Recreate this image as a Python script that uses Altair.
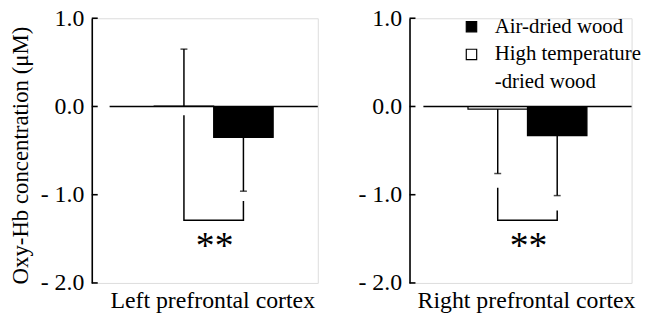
import altair as alt
import numpy as np
import pandas as pd

regions = ["Left prefrontal cortex", "Right prefrontal cortex"]
series = ["Air-dried wood", "High temperature-dried wood"]
x_order = ["High temperature-dried wood", "Air-dried wood"]
# legend rows (the long label is split over two rows)
legend_rows = ["Air-dried wood", "High temperature-dried wood", "-dried wood"]
legend_texts = ["Air-dried wood", "High temperature", "-dried wood"]
# means and SDs (μM), per region
air_mean = [-0.35, -0.33]
high_mean = [0.005, -0.03]
air_sd = [0.61, 0.68]
high_sd = [0.645, 0.73]
# significance bracket per region
bracket_high_top = [-0.10, -0.92]
bracket_air_top = [-1.07, -1.18]
bracket_bottom = [-1.29, -1.29]
sig_label = ["**", "**"]
y_ticks = [1.0, 0.0, -1.0, -2.0]
y_tick_labels = ["1.0", "0.0", "- 1.0", "- 2.0"]
y_title = "Oxy-Hb concentration (μM)"

FONT = "Liberation Serif"

label_expr = "''"
for v, t in zip(y_ticks, y_tick_labels):
    label_expr = f"datum.value == {v} ? '{t}' : ({label_expr})"

legend_expr = "datum.label"
for k, t in zip(legend_rows, legend_texts):
    legend_expr = f"datum.label == '{k}' ? '{t}' : ({legend_expr})"

H = 267


def panel(i, width, zx0, pad_outer, align, title_x, show_axis_title, show_legend):
    m = [air_mean[i], high_mean[i]]
    s = [air_sd[i], high_sd[i]]
    bars = pd.DataFrame({"series": series, "mean": m, "sd": s})
    bars["end"] = bars["mean"] + np.where(bars["mean"] >= 0, 1, -1) * bars["sd"]

    xscale = alt.Scale(domain=x_order, paddingInner=0, paddingOuter=pad_outer, align=align)
    xaxis = alt.Axis(title=regions[i], labels=False, ticks=False, domain=False,
                     titleFont=FONT, titleFontSize=24, titleFontWeight="normal",
                     titleColor="black", titlePadding=6, titleX=title_x)
    yscale = alt.Scale(domain=[-2, 1], nice=False, zero=False)
    yaxis = alt.Axis(title=y_title if show_axis_title else None, values=y_ticks,
                     labelExpr=label_expr, ticks=False, tickSize=0, grid=False,
                     labelFont=FONT, labelFontSize=24, labelColor="black", labelPadding=8,
                     domainColor="black", domainWidth=1.6,
                     titleFont=FONT, titleFontSize=23, titleFontWeight="normal",
                     titleColor="black", titlePadding=8, titleY=138)

    def X(field):
        return alt.X(field, type="nominal", scale=xscale, axis=xaxis)

    def Y(field):
        return alt.Y(field, type="quantitative", scale=yscale, axis=yaxis)

    legend = None
    if show_legend:
        legend = alt.Legend(orient="none", legendX=52, legendY=-2, title=None,
                            symbolType="square", symbolSize=110,
                            symbolStrokeWidth=1.2, labelFont=FONT, labelFontSize=21,
                            labelColor="black", labelOffset=13, labelExpr=legend_expr,
                            rowPadding=6, padding=0, labelLimit=300)

    bar = alt.Chart(bars).mark_bar(strokeWidth=1.2).encode(
        x=X("series"), y=Y("mean"), y2=alt.datum(0),
        fill=alt.Fill("series:N", scale=alt.Scale(domain=legend_rows,
                                                  range=["black", "white", "transparent"]),
                      legend=legend),
        stroke=alt.Stroke("series:N", scale=alt.Scale(domain=legend_rows,
                                                      range=["black", "black", "transparent"]),
                          legend=legend),
    )
    err = alt.Chart(bars).mark_rule(color="black", strokeWidth=1.5).encode(
        x=X("series"), y=Y("mean"), y2="end:Q")
    cap = alt.Chart(bars).mark_tick(color="black", size=7, thickness=1.5).encode(
        x=X("series"), y=Y("end"))

    br = pd.DataFrame({
        "series": [x_order[0], x_order[0], x_order[1], x_order[1]],
        "y": [bracket_high_top[i], bracket_bottom[i], bracket_bottom[i], bracket_air_top[i]],
        "k": [0, 1, 2, 3],
    })
    bracket = alt.Chart(br).mark_line(color="black", strokeWidth=1.5).encode(
        x=X("series"), y=Y("y"), order="k:Q")

    st = pd.DataFrame({"series": [x_order[0]], "y": [bracket_bottom[i]], "t": [sig_label[i]]})
    stars = alt.Chart(st).mark_text(font=FONT, fontSize=38, baseline="top", align="center",
                                    dx=31, dy=8, color="black").encode(
        x=X("series"), y=Y("y"), text="t:N")

    zero = alt.Chart(pd.DataFrame({"y": [0.0]})).mark_rule(color="black", strokeWidth=1.5).encode(
        y=Y("y"), x=alt.value(zx0), x2=alt.value(width))

    tk = alt.Chart(pd.DataFrame({"y": y_ticks})).mark_rule(color="black", strokeWidth=1.6).encode(
        y=Y("y"), x=alt.value(0), x2=alt.value(6))

    return alt.layer(bar, zero, err, cap, bracket, stars, tk).properties(width=width, height=H)


left = panel(0, 228, 18, 0.9, 0.583, 121.5, True, False)
right = panel(1, 224, 14, 0.8667, 0.567, 117.5, False, True)

chart = alt.hconcat(left, right, spacing=37.5).resolve_scale(
    fill="independent", stroke="independent").properties(
    padding={"left": 0.5, "top": -4, "right": 0, "bottom": 0}
).configure_view(stroke=None).configure(background="white")

chart.save("out.html", embed_options={"renderer": "svg", "actions": False})
